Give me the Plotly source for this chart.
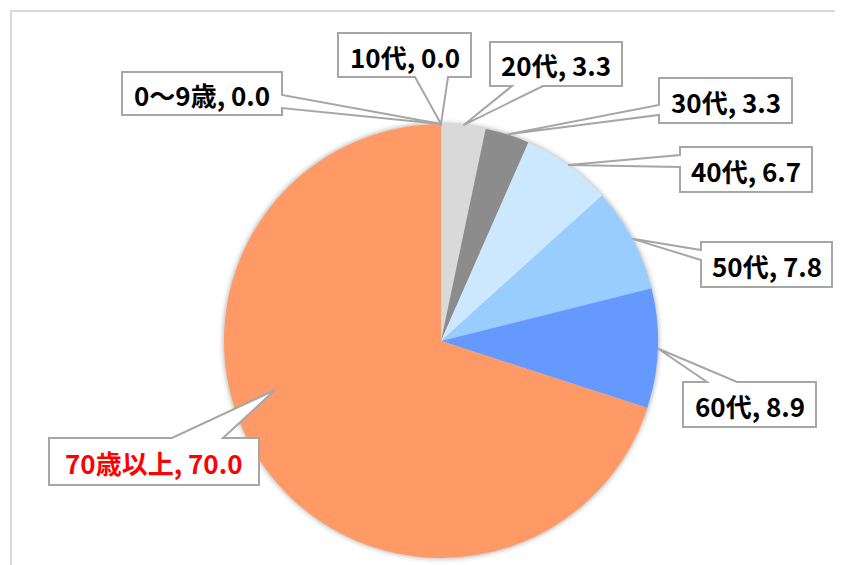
import math
import plotly.graph_objects as go

labels = ["0～9歳", "10代", "20代", "30代", "40代", "50代", "60代", "70歳以上"]
values = [0.0, 0.0, 3.3, 3.3, 6.7, 7.8, 8.9, 70.0]
colors = ["#BFBFBF", "#A6A6A6", "#D9D9D9", "#8C8C8C", "#CCE8FF", "#99CCFF", "#6699FF", "#FF9966"]
label_colors = ["#000000", "#000000", "#000000", "#000000", "#000000", "#000000", "#000000", "#FF0000"]

W, H = 843, 565
OFF = 8  # page body margin offset
CX, CY, R = 441, 341, 217

# callout boxes in pixels: x0, y0, x1, y1, wedge side, wedge base (a, b) along that side
boxes = [
    (122, 72, 282, 115, "right", 95, 108),
    (338, 33, 471, 77, "bottom", 415, 448),
    (490, 42, 622, 86, "bottom", 512, 543),
    (659, 78, 792, 123, "left", 105, 115),
    (680, 147, 812, 192, "left", 155, 167),
    (701, 242, 832, 287, "left", 250, 260),
    (683, 382, 816, 427, "top", 707, 737),
    (49, 438, 259, 485, "top", 172, 223),
]
tip_override = {7: (275, 390)}


def px(x, y):
    return (x - OFF) / W, 1 - (y - OFF) / H


# tip positions on the pie edge from the data (clockwise from 12 o'clock)
total = sum(values)
tips = []
cum = 0.0
for i, v in enumerate(values):
    mid = (cum + v / 2) / total * 2 * math.pi
    cum += v
    tips.append((CX + R * math.sin(mid), CY - R * math.cos(mid)))
for k, t in tip_override.items():
    tips[k] = t

dx0, dy1 = px(CX - R, CY - R)
dx1, dy0 = px(CX + R, CY + R)

fig = go.Figure()
fig.add_trace(go.Pie(
    labels=labels, values=values, sort=False, direction="clockwise", rotation=0,
    marker=dict(colors=colors, line=dict(width=0)),
    textinfo="none", hoverinfo="label+value", showlegend=False,
    domain=dict(x=[dx0, dx1], y=[dy0, dy1]),
))

shapes = []
# outer chart border (top and left visible)
bx0, by0 = px(11, 11)
shapes.append(dict(type="rect", xref="paper", yref="paper",
                   x0=bx0, y0=by0, x1=1.05, y1=-0.05,
                   line=dict(color="#D9D9D9", width=2), layer="below"))
# soft shadow around the pie
for dr, a in [(5, 0.03), (3, 0.05), (1.5, 0.07)]:
    x0, y0 = px(CX - R - dr, CY - R - dr)
    x1, y1 = px(CX + R + dr, CY + R + dr)
    shapes.append(dict(type="circle", xref="paper", yref="paper", x0=x0, y0=y1, x1=x1, y1=y0,
                       fillcolor=f"rgba(0,0,0,{a})", line=dict(width=0), layer="below"))

for i, (x0, y0, x1, y1, side, a, b) in enumerate(boxes):
    tx, ty = tips[i]
    if side == "bottom":
        pts = [(x0, y0), (x1, y0), (x1, y1), (b, y1), (tx, ty), (a, y1), (x0, y1)]
    elif side == "top":
        pts = [(x0, y0), (a, y0), (tx, ty), (b, y0), (x1, y0), (x1, y1), (x0, y1)]
    elif side == "left":
        pts = [(x0, y0), (x1, y0), (x1, y1), (x0, y1), (x0, b), (tx, ty), (x0, a)]
    else:
        pts = [(x0, y0), (x1, y0), (x1, a), (tx, ty), (x1, b), (x1, y1), (x0, y1)]
    path = "M " + " L ".join(f"{px(x, y)[0]:.5f},{px(x, y)[1]:.5f}" for x, y in pts) + " Z"
    shapes.append(dict(type="path", xref="paper", yref="paper", path=path,
                       fillcolor="white", line=dict(color="#A6A6A6", width=2), layer="above"))

annotations = []
for i, (x0, y0, x1, y1, side, a, b) in enumerate(boxes):
    cx, cy = px((x0 + x1) / 2, (y0 + y1) / 2 + 1)
    annotations.append(dict(
        x=cx, y=cy, xref="paper", yref="paper", xanchor="center", yanchor="middle",
        text=f"<b>{labels[i]}, {values[i]:.1f}</b>", showarrow=False,
        font=dict(family="Noto Sans CJK JP", size=26, color=label_colors[i]),
    ))

fig.update_layout(
    width=W, height=H, margin=dict(l=0, r=0, t=0, b=0),
    paper_bgcolor="white", plot_bgcolor="white",
    shapes=shapes, annotations=annotations,
)
fig.write_html("out.html")
